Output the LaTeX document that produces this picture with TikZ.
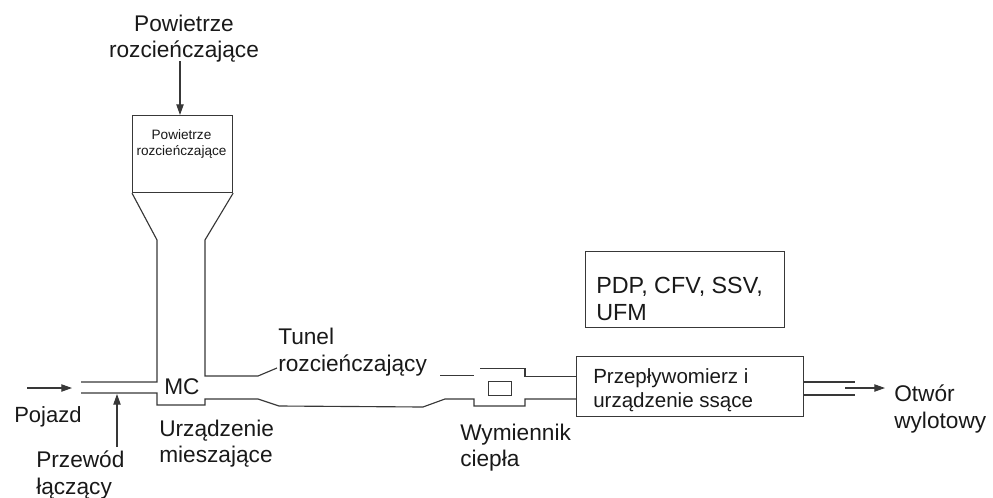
\documentclass[tikz,border=0pt]{standalone}
\usepackage{fontspec}
\setmainfont{Liberation Sans}
\usetikzlibrary{arrows.meta}
\definecolor{ink}{gray}{0.22}
\definecolor{txt}{gray}{0.1}
\tikzset{
  x=0.75pt,y=-0.75pt,
  wall/.style={draw=ink,line width=0.85pt,line join=miter},
  flow/.style={draw=ink,line width=0.85pt,-{Triangle[length=8pt,width=5.5pt]}},
  box/.style={draw=ink,line width=0.85pt,fill=white,minimum width=0pt,inner sep=0pt},
  lab/.style={text=txt,font=\fontsize{17}{19.75}\selectfont,align=left,inner sep=0pt,anchor=west},
  labc/.style={lab,align=center,anchor=center},
}
\begin{document}
\begin{tikzpicture}
\useasboundingbox (0,0) rectangle (993,497);
% boxes
\node[box,minimum width=75pt,minimum height=57.75pt,anchor=north west] (air) at (132,115) {};
\node[box,minimum width=149.25pt,minimum height=57pt,anchor=north west] (pdp) at (585,251) {};
\node[box,minimum width=170.25pt,minimum height=45pt,anchor=north west] (meter) at (576,356) {};
\node[box,minimum width=17.25pt,minimum height=10.5pt,anchor=north west] (hx) at (488,381) {};
% texts
\node[labc] (t1) at (184,38.5) {Powietrze\\rozcieńczające};
\node[text=txt,font=\fontsize{10.2}{12}\selectfont,align=center,inner sep=0pt] (t2) at (181.5,143.5) {Powietrze\\rozcieńczające};
\node[lab,font=\fontsize{17.5}{20.5}\selectfont] (t3) at (596,299) {PDP, CFV, SSV,\\UFM};
\node[lab] (t4) at (278,352) {Tunel\\rozcieńczający};
\node[lab] (t5) at (164,387) {MC};
\node[lab,font=\fontsize{16.5}{19}\selectfont] (t6) at (14,417) {Pojazd};
\node[lab] (t7) at (159,443.5) {Urządzenie\\mieszające};
\node[lab] (t8) at (36,475) {Przewód\\łączący};
\node[lab] (t9) at (460,447.5) {Wymiennik\\ciepła};
\node[lab,font=\fontsize{15.4}{18}\selectfont] (t10) at (593,390) {Przepływomierz i\\urządzenie ssące};
\node[lab] (t11) at (894,409) {Otwór\\wylotowy};
% free ends
\coordinate (a1) at (180,61);
\coordinate (a2) at (180,115);
\coordinate (b1) at (27,388);
\coordinate (b2) at (72,388);
\coordinate (c1) at (117,447);
\coordinate (c2) at (117,394);
\coordinate (d1) at (845,388);
\coordinate (d2) at (885,388);
% arrows
\draw[flow] (a1) -- (a2);
\draw[flow] (b1) -- (b2);
\draw[flow] (c1) -- (c2);
\draw[flow] (d1) -- (d2);
% duct
\path[wall] (81,382) -- (157,382) -- (157,240) -- (air.south west);
\path[wall] (air.south east) -- (205,240) -- (205,376) -- (258,376) -- (277,368);
\path[wall] (81,393) -- (157,393) -- (157,405) -- (205,405) -- (205,399) -- (258,399) -- (279,406) -- (423,407) -- (445,399) -- (474,399) -- (474,406) -- (525,406) -- (525,399) -- (576,399);
\path[wall] (440,375.5) -- (474,375.5);
\path[wall] (480,368.4) -- (525,368.4) -- (525,376.4) -- (576,376.4);
\path[wall] (803,382) -- (855,382);
\path[wall] (803,395) -- (855,395);
\end{tikzpicture}
\end{document}
